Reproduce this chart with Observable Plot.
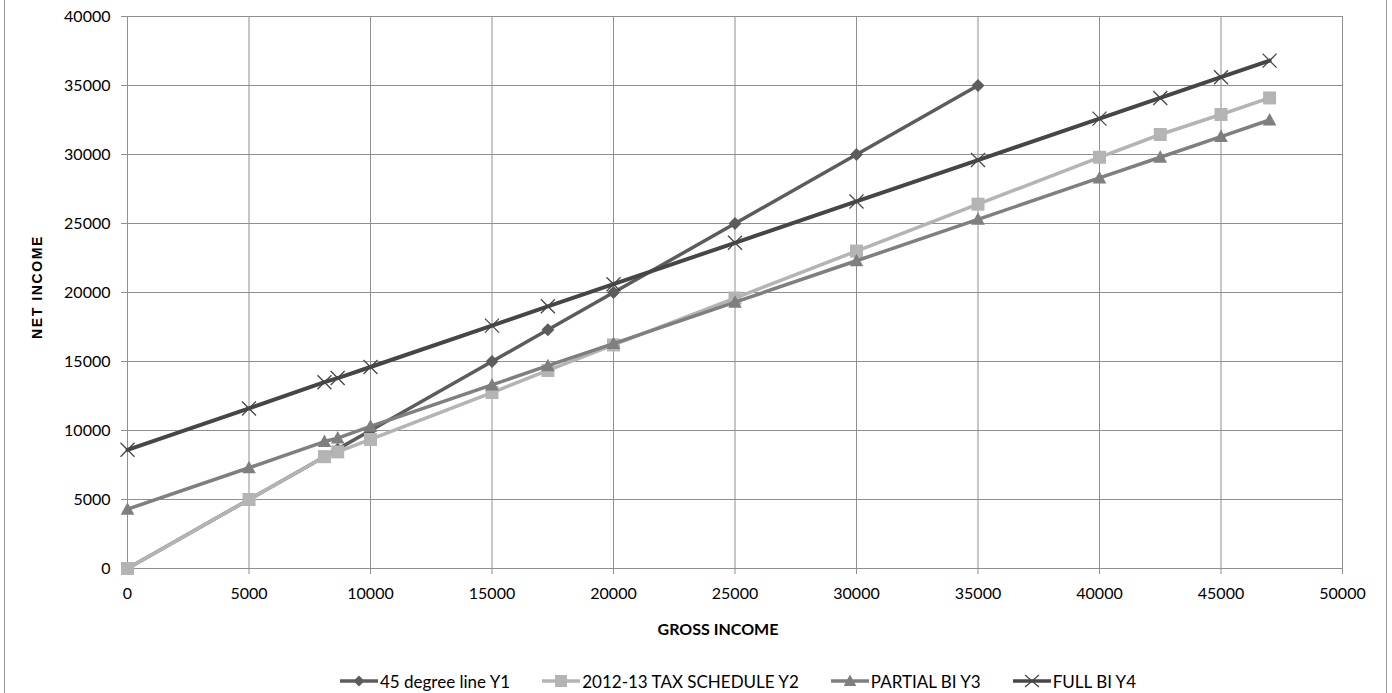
<!DOCTYPE html>
<html>
<head>
<meta charset="utf-8">
<script src="https://cdn.jsdelivr.net/npm/d3@7"></script>
<script src="https://cdn.jsdelivr.net/npm/@observablehq/plot@0.6"></script>
<style>
  html, body { margin: 0; padding: 0; background: #fff; }
  #wrap { position: relative; width: 1392px; height: 693px; overflow: hidden; font-family: Lato, "Open Sans", sans-serif; }
  #frame { position: absolute; left: 4px; top: -2px; width: 1383px; height: 700px; box-sizing: border-box; border: 1px solid #9c9c9c; pointer-events: none; }
  #chart { position: absolute; left: 0; top: 0; }
  .ytitle { position: absolute; left: 37px; top: 287px; transform: translate(-50%, -50%) rotate(-90deg); font-family: "Liberation Sans", Arial, sans-serif; font-weight: bold; font-size: 14px; letter-spacing: 1.6px; white-space: nowrap; color: #000; }
  .xtitle { position: absolute; left: 718px; top: 628px; transform: translate(-50%, -50%); font-family: Lato, sans-serif; font-weight: bold; font-size: 16px; white-space: nowrap; color: #000; }
  #legend { position: absolute; left: 42px; width: 1392px; top: 670px; height: 22px; display: flex; justify-content: center; align-items: center; gap: 32px; font-family: Lato, sans-serif; font-size: 17px; color: #000; }
  .item { display: flex; align-items: center; gap: 2px; white-space: nowrap; }
</style>
</head>
<body>
<div id="wrap">
  <div id="chart"></div>
  <div class="ytitle">NET INCOME</div>
  <div class="xtitle">GROSS INCOME</div>
  <div id="legend"></div>
  <div id="frame"></div>
</div>
<script>
// ---- data ----
const gross = [0, 5000, 8105, 8650, 10000, 15000, 17300, 20000, 25000, 30000, 35000, 40000, 42500, 45000, 47000];
const seriesNames = ["45 degree line Y1", "2012-13 TAX SCHEDULE Y2", "PARTIAL BI Y3", "FULL BI Y4"];
const y1 = [0, 5000, 8105, 8650, 10000, 15000, 17300, 20000, 25000, 30000, 35000];
const y2 = [0, 5000, 8105, 8450, 9350, 12750, 14350, 16200, 19600, 23000, 26400, 29800, 31450, 32900, 34100];
const y3 = [4300, 7300, 9200, 9450, 10300, 13300, 14700, 16300, 19300, 22300, 25300, 28300, 29800, 31300, 32500];
const y4 = [8600, 11600, 13500, 13800, 14600, 17600, 19000, 20600, 23600, 26600, 29600, 32600, 34100, 35600, 36800];
const xTicks = [0, 5000, 10000, 15000, 20000, 25000, 30000, 35000, 40000, 45000, 50000];
const yTicks = [0, 5000, 10000, 15000, 20000, 25000, 30000, 35000, 40000];

// ---- marker shapes ----
const diamond = {draw(c) { const s = 6.5; c.moveTo(0, -s); c.lineTo(s, 0); c.lineTo(0, s); c.lineTo(-s, 0); c.closePath(); }};
const square = {draw(c) { const s = 6.5; c.moveTo(-s, -s); c.lineTo(s, -s); c.lineTo(s, s); c.lineTo(-s, s); c.closePath(); }};
const triangle = {draw(c) { c.moveTo(0, -7); c.lineTo(6.8, 5.5); c.lineTo(-6.8, 5.5); c.closePath(); }};
const times = {draw(c) { const s = 7; c.moveTo(-s, -s); c.lineTo(s, s); c.moveTo(s, -s); c.lineTo(-s, s); }};

const series = [
  {name: seriesNames[0], values: y1, color: "#5c5c5c", symbol: diamond, width: 3.5, stroked: false},
  {name: seriesNames[1], values: y2, color: "#b4b4b4", symbol: square, width: 3.5, stroked: false},
  {name: seriesNames[2], values: y3, color: "#7f7f7f", symbol: triangle, width: 3.5, stroked: false},
  {name: seriesNames[3], values: y4, color: "#464646", symbol: times, width: 4, stroked: true}
];

const gridColor = "#8f8f8f";
const marks = [
  Plot.ruleX(xTicks, {x: d => d, stroke: gridColor, strokeWidth: 1}),
  Plot.ruleY(yTicks, {y: d => d, stroke: gridColor, strokeWidth: 1}),
  Plot.axisX({ticks: xTicks, tickSize: 6, tickPadding: 13, stroke: gridColor, fill: "#000", fontSize: 16, label: null, tickFormat: d => String(d)}),
  Plot.axisY({ticks: yTicks, tickSize: 6, tickPadding: 11, stroke: gridColor, fill: "#000", fontSize: 16, label: null, tickFormat: d => String(d)})
];
for (const s of series) {
  const rows = s.values.map((v, i) => ({x: gross[i], y: v}));
  marks.push(Plot.line(rows, {x: "x", y: "y", stroke: s.color, strokeWidth: s.width, strokeLinejoin: "round"}));
  if (s.stroked) {
    marks.push(Plot.dot(rows, {x: "x", y: "y", symbol: s.symbol, r: 5, fill: "none", stroke: s.color, strokeWidth: 1.3}));
  } else {
    marks.push(Plot.dot(rows, {x: "x", y: "y", symbol: s.symbol, r: 5, fill: s.color, stroke: "none"}));
  }
}

const chart = Plot.plot({
  width: 1392,
  height: 660,
  marginLeft: 127,
  marginRight: 50,
  marginTop: 16,
  marginBottom: 92,
  x: {domain: [0, 50000]},
  y: {domain: [0, 40000]},
  style: {fontFamily: "Lato, sans-serif", fontSize: "16px", color: "#000", background: "transparent"},
  marks
});
document.getElementById("chart").appendChild(chart);

// ---- legend ----
const legend = document.getElementById("legend");
const shapePaths = {
  diamond: "M0,-5.5L5.5,0L0,5.5L-5.5,0Z",
  square: "M-6,-6L6,-6L6,6L-6,6Z",
  triangle: "M0,-6.5L6.3,5L-6.3,5Z",
  times: "M-7,-6L7,6M7,-6L-7,6"
};
const shapeKeys = ["diamond", "square", "triangle", "times"];
series.forEach((s, i) => {
  const item = document.createElement("div");
  item.className = "item";
  const key = shapeKeys[i];
  const mk = s.stroked
    ? `<path d="${shapePaths[key]}" transform="translate(19,11)" fill="none" stroke="${s.color}" stroke-width="1.3"/>`
    : `<path d="${shapePaths[key]}" transform="translate(19,11)" fill="${s.color}"/>`;
  item.innerHTML = `<svg width="38" height="22"><line x1="0" x2="38" y1="11" y2="11" stroke="${s.color}" stroke-width="3.5"/>${mk}</svg><span>${s.name}</span>`;
  legend.appendChild(item);
});
</script>
</body>
</html>
